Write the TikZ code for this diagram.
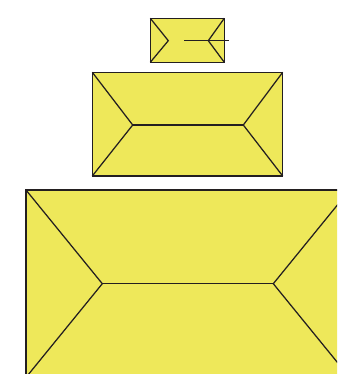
\documentclass[tikz,border=0pt]{standalone}
\definecolor{roof}{RGB}{238,232,90}
\definecolor{edge}{RGB}{35,31,32}
\tikzset{roofbox/.style={fill=roof,draw=edge,line width=1.4pt},
         ridge/.style={draw=edge,line width=1.25pt,line join=miter}}
\begin{document}
\begin{tikzpicture}[x=1pt,y=-1pt]
\useasboundingbox (0,0) rectangle (337,374);
\clip (0,0) rectangle (337,374);
% small roof
\draw[roofbox] (150.3,18.3) rectangle (224.3,62.3);
\coordinate (sl) at (168.3,40.7);
\coordinate (sr) at (208.3,40.7);
\draw[ridge] (150.3,18.3) -- (sl) -- (150.3,62.3);
\draw[ridge] (224.3,18.3) -- (sr) -- (224.3,62.3);
\coordinate (sa) at (184.3,40.7);
\coordinate (sb) at (229,40.7);
\draw[ridge] (sa) -- (sb);
% medium roof
\draw[roofbox] (92.3,72.3) rectangle (282.7,176);
\coordinate (ml) at (132.7,125);
\coordinate (mr) at (243.3,125);
\draw[ridge] (92.3,72.3) -- (ml) -- (92.3,176);
\draw[ridge] (282.7,72.3) -- (mr) -- (282.7,176);
\draw[ridge] (ml) -- (mr);
% large roof
\draw[roofbox] (26,190) rectangle (349.6,377.4);
\coordinate (ll) at (102.3,283.7);
\coordinate (lr) at (273.3,283.7);
\draw[ridge] (26,190) -- (ll) -- (26,377.4);
\draw[ridge] (349.6,190) -- (lr) -- (349.6,377.4);
\draw[ridge] (ll) -- (lr);
\end{tikzpicture}
\end{document}
